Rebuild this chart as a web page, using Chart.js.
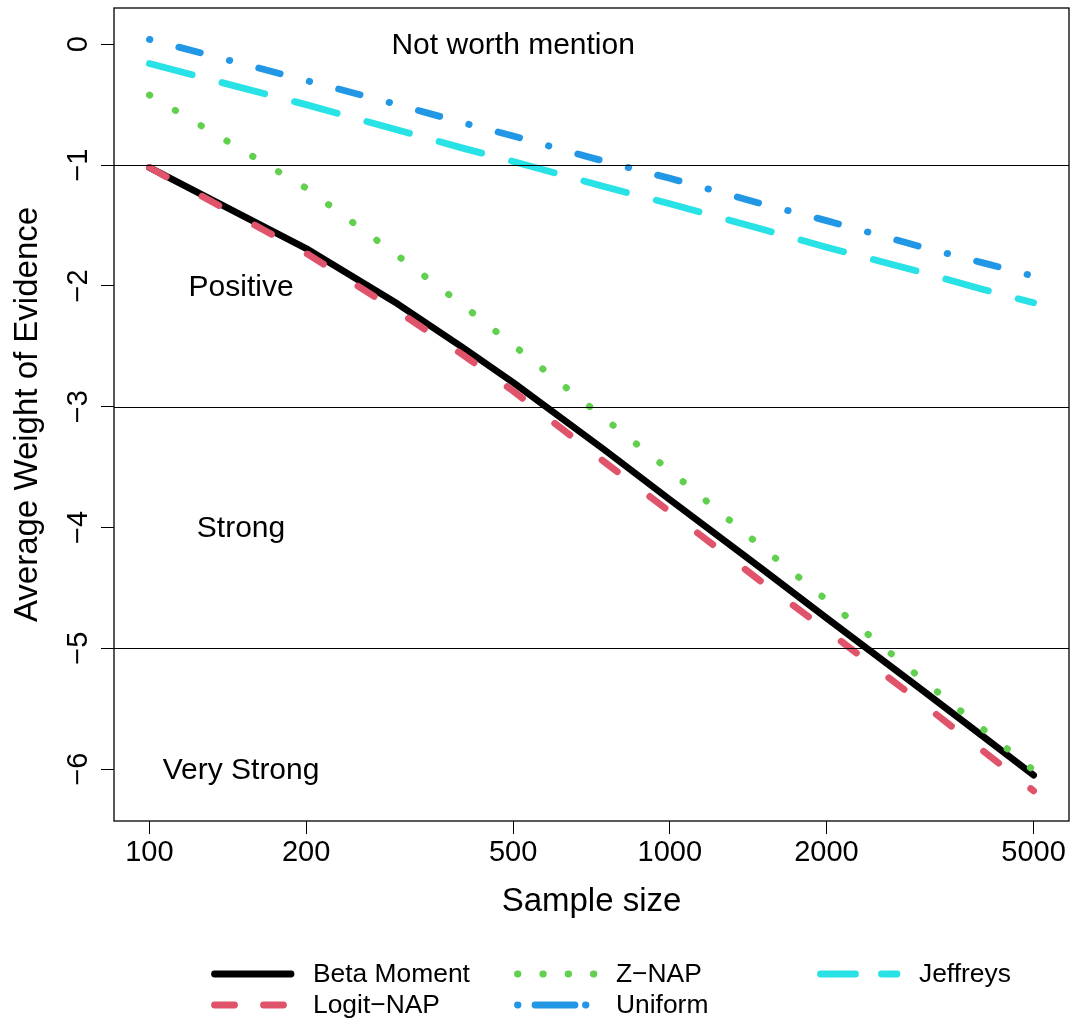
<!DOCTYPE html>
<html>
<head>
<meta charset="utf-8">
<title>Average Weight of Evidence</title>
<script src="https://cdn.jsdelivr.net/npm/chart.js@4.4.1/dist/chart.umd.min.js"></script>
<style>
  html, body { margin: 0; padding: 0; background: #ffffff; }
  #wrap { width: 1072px; height: 1019px; position: relative; }
</style>
</head>
<body>
<div id="wrap"><canvas id="woe"></canvas></div>
<script>
// sample sizes and the average weight of evidence for each prior
var sampleSizes = [100, 200, 300, 400, 500, 750, 1000, 1500, 2000, 3000, 4000, 5000];
var betaMoment = [-1.02, -1.69, -2.15, -2.51, -2.80, -3.36, -3.77, -4.34, -4.75, -5.32, -5.73, -6.05];
var logitNap   = [-1.02, -1.73, -2.21, -2.57, -2.87, -3.46, -3.87, -4.45, -4.85, -5.43, -5.85, -6.18];
var zNap       = [-0.42, -1.19, -1.75, -2.16, -2.49, -3.10, -3.53, -4.16, -4.60, -5.23, -5.67, -6.01];
var uniform    = [0.04, -0.30, -0.50, -0.65, -0.76, -0.97, -1.11, -1.32, -1.46, -1.67, -1.81, -1.92];
var jeffreys   = [-0.16, -0.50, -0.71, -0.86, -0.97, -1.18, -1.32, -1.53, -1.68, -1.88, -2.03, -2.14];

var xTicks = [100, 200, 500, 1000, 2000, 5000];
var yTicks = [0, -1, -2, -3, -4, -5, -6];

// Jeffreys' scale cut points and region names
var evidenceCuts = [-1, -3, -5];
var regionLabels = ['Not worth mention', 'Positive', 'Strong', 'Very Strong'];
var regionLabelX = [500, 150, 150, 150];
var regionLabelY = [0, -2, -4, -6];

var FONT = '"Liberation Sans", Arial, Helvetica, sans-serif';
Chart.defaults.font.family = FONT;
Chart.defaults.color = '#000';

function pairs(ys) {
  return sampleSizes.map(function (n, i) { return {x: n, y: ys[i]}; });
}

function series(label, ys, color, dash, legendDash, order) {
  return {
    label: label,
    data: pairs(ys),
    borderColor: color,
    backgroundColor: color,
    borderWidth: 6.8,
    borderDash: dash,
    borderCapStyle: 'round',
    borderJoinStyle: 'round',
    pointRadius: 0,
    fill: false,
    tension: 0,
    order: order,
    legendDash: legendDash
  };
}

var woeExtras = {
  id: 'woeExtras',
  afterDatasetsDraw: function (chart) {
    var ctx = chart.ctx, area = chart.chartArea;
    var xs = chart.scales.x, ys = chart.scales.y;
    ctx.save();
    ctx.strokeStyle = '#000';
    ctx.lineWidth = 1.2;
    evidenceCuts.forEach(function (v) {
      var py = Math.round(ys.getPixelForValue(v)) + 0.5;
      ctx.beginPath();
      ctx.moveTo(area.left, py);
      ctx.lineTo(area.right, py);
      ctx.stroke();
    });
    ctx.lineWidth = 1.3;
    ctx.strokeRect(area.left, area.top, area.right - area.left, area.bottom - area.top);

    // region names, centred on their cap height like R's text()
    var size = 30;
    ctx.fillStyle = '#000';
    ctx.font = size + 'px ' + FONT;
    ctx.textAlign = 'center';
    ctx.textBaseline = 'alphabetic';
    regionLabels.forEach(function (t, i) {
      ctx.fillText(t, xs.getPixelForValue(regionLabelX[i]),
                   ys.getPixelForValue(regionLabelY[i]) + size * 0.36 - 1);
    });
    ctx.restore();
  },
  afterDraw: function (chart) {
    // legend laid out in columns like R's legend(ncol = 3)
    var ctx = chart.ctx;
    var cols = [211, 514, 817], rows = [974, 1005];
    ctx.save();
    ctx.font = '26.4px ' + FONT;
    ctx.fillStyle = '#000';
    ctx.textAlign = 'left';
    ctx.textBaseline = 'middle';
    chart.data.datasets.forEach(function (ds, i) {
      var cx = cols[Math.floor(i / 2)], cy = rows[i % 2];
      ctx.strokeStyle = ds.borderColor;
      ctx.lineWidth = ds.borderWidth;
      ctx.lineCap = 'round';
      ctx.setLineDash(ds.legendDash);
      ctx.beginPath();
      ctx.moveTo(cx + 3.5, cy);
      ctx.lineTo(cx + 80, cy);
      ctx.stroke();
      ctx.setLineDash([]);
      ctx.fillText(ds.label, cx + 102, cy + 1);
    });
    ctx.restore();
  }
};

new Chart(document.getElementById('woe'), {
  type: 'line',
  data: {
    datasets: [
      series('Beta Moment', betaMoment, '#000000', [], [], 5),
      series('Logit\u2212NAP', logitNap, '#DF536B', [19.2, 40.8], [20, 29], 4),
      series('Z\u2212NAP', zNap, '#61D04F', [0.5, 29.5], [0.5, 24.8], 3),
      series('Uniform', uniform, '#2297E6', [0.5, 29.9, 22.2, 30], [0.5, 17, 40, 10.5], 2),
      series('Jeffreys', jeffreys, '#28E2E5', [44.2, 30.8], [35, 26], 1)
    ]
  },
  options: {
    responsive: true,
    maintainAspectRatio: false,
    animation: false,
    layout: { padding: { top: 8, right: 3, bottom: 97, left: 0 } },
    plugins: {
      legend: { display: false },
      tooltip: { enabled: false }
    },
    scales: {
      x: {
        type: 'logarithmic',
        min: 85.5,
        max: 5848,
        afterBuildTicks: function (s) {
          s.ticks = xTicks.map(function (v) { return {value: v}; });
        },
        afterFit: function (s) {
          s.height = 101;
          s.paddingLeft = 0;
          s.paddingRight = 0;
        },
        grid: { drawOnChartArea: false, drawTicks: true, tickLength: 13, color: '#000', lineWidth: 1 },
        border: { display: false },
        ticks: {
          color: '#000',
          font: { size: 29 },
          padding: 2,
          autoSkip: false,
          maxRotation: 0,
          callback: function (v) { return String(v); }
        },
        title: {
          display: true,
          text: 'Sample size',
          color: '#000',
          font: { size: 33 },
          padding: { top: 0, bottom: 0 }
        }
      },
      y: {
        type: 'linear',
        min: -6.43,
        max: 0.30,
        afterBuildTicks: function (s) {
          s.ticks = yTicks.map(function (v) { return {value: v}; });
        },
        afterFit: function (s) {
          s.width = 114;
          s.paddingTop = 0;
          s.paddingBottom = 0;
        },
        grid: { drawOnChartArea: false, drawTicks: true, tickLength: 13, color: '#000', lineWidth: 1 },
        border: { display: false },
        ticks: {
          color: '#000',
          font: { size: 29 },
          padding: 5,
          autoSkip: false,
          minRotation: 90,
          maxRotation: 90,
          crossAlign: 'center',
          callback: function (v) { return String(v).replace('-', '\u2212'); }
        },
        title: {
          display: true,
          text: 'Average Weight of Evidence',
          color: '#000',
          font: { size: 33 },
          padding: { top: 8, bottom: 0 }
        }
      }
    }
  },
  plugins: [woeExtras]
});
</script>
</body>
</html>
